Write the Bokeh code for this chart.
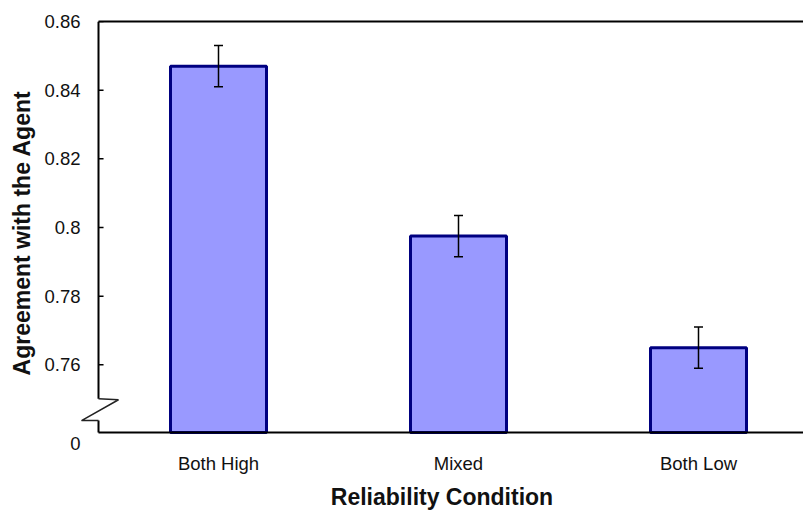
from bokeh.plotting import figure
from bokeh.models import (Range1d, LinearAxis, FixedTicker, Whisker, ColumnDataSource, TeeHead)
from bokeh.embed import file_html
from bokeh.resources import INLINE

# ---- data ----
categories = ["Both High", "Mixed", "Both Low"]
means = [0.847, 0.7975, 0.765]
errors = [0.006, 0.006, 0.006]
y_ticks = [0.76, 0.78, 0.80, 0.82, 0.84, 0.86]
y_tick_labels = ["0.76", "0.78", "0.8", "0.82", "0.84", "0.86"]
floor_label = "0"
x_title = "Reliability Condition"
y_title = "Agreement with the Agent"

# ---- layout of the broken axis (in data units) ----
y_top = 0.86
y_floor = 0.74029      # where the broken axis meets the x axis (the "0" level)
y_zero_lbl = 0.73710   # where the "0" label sits
y_min = 0.73681        # bottom of the frame
break_hi = 0.75014
break_lo = 0.74377
x_axis = 0.5           # x position of the drawn y axis
x_start = 0.425
x_end = 3.4375
zig_right = 0.5833
zig_left = 0.4292
tick_len = 0.021

FONT = "Liberation Sans"
TXT = "#111111"

xs = list(range(1, len(categories) + 1))
src = ColumnDataSource(dict(
    x=xs, top=means,
    upper=[m + e for m, e in zip(means, errors)],
    lower=[m - e for m, e in zip(means, errors)],
))

p = figure(width=803, height=512, output_backend="svg", toolbar_location=None,
           x_range=Range1d(x_start, x_end), y_range=Range1d(y_min, y_top),
           min_border_left=80, min_border_right=0, min_border_top=21, min_border_bottom=10)
p.xgrid.visible = False
p.ygrid.visible = False
p.outline_line_color = None
p.background_fill_color = "white"

p.vbar(x="x", top="top", bottom=y_floor, width=0.4, source=src,
       fill_color="#9999FF", line_color="#000080", line_width=3)

# drawn axis lines (broken y axis + x axis starting at the y axis)
p.line([x_axis, x_end], [y_floor, y_floor], line_color="black", line_width=2)
p.line([x_axis, x_axis], [break_hi, y_top], line_color="black", line_width=2)
p.line([x_axis, x_axis], [y_floor, break_lo], line_color="black", line_width=2)
p.line([x_axis, zig_right, zig_left, x_axis],
       [break_hi, break_hi - 0.0003, break_lo, break_lo],
       line_color="#222222", line_width=1.5)
# inward tick marks of the y axis
p.segment(x0=[x_axis] * len(y_ticks), x1=[x_axis + tick_len] * len(y_ticks),
          y0=y_ticks, y1=y_ticks, line_color="black", line_width=1.5)

w = Whisker(base="x", upper="upper", lower="lower", source=src,
            line_color="black", line_width=1.5, level="annotation",
            upper_head=TeeHead(size=9, line_color="black", line_width=1.5),
            lower_head=TeeHead(size=9, line_color="black", line_width=1.5))
p.add_layout(w)

# x axis
xa = p.xaxis[0]
xa.ticker = FixedTicker(ticks=xs)
xa.major_label_overrides = {x: c for x, c in zip(xs, categories)}
xa.major_tick_line_color = None
xa.major_tick_out = 0
xa.major_tick_in = 0
xa.minor_tick_line_color = None
xa.axis_line_color = None
xa.major_label_text_font = FONT
xa.major_label_text_font_size = "18.5px"
xa.major_label_text_color = TXT
xa.major_label_standoff = 8
xa.axis_label = x_title
xa.axis_label_text_font = FONT
xa.axis_label_text_font_size = "23px"
xa.axis_label_text_font_style = "bold"
xa.axis_label_text_color = TXT
xa.axis_label_standoff = 7

# y axis (labels only; line and ticks drawn above)
ya = p.yaxis[0]
ya.ticker = FixedTicker(ticks=y_ticks + [y_zero_lbl])
overrides = {t: l for t, l in zip(y_ticks, y_tick_labels)}
overrides[y_zero_lbl] = floor_label
ya.major_label_overrides = overrides
ya.major_tick_line_color = None
ya.major_tick_in = 0
ya.major_tick_out = 0
ya.minor_tick_line_color = None
ya.axis_line_color = None
ya.major_label_text_font = FONT
ya.major_label_text_font_size = "18.5px"
ya.major_label_text_color = TXT
ya.major_label_standoff = 0
ya.axis_label = y_title
ya.axis_label_text_font = FONT
ya.axis_label_text_font_size = "23px"
ya.axis_label_text_font_style = "bold"
ya.axis_label_text_color = TXT
ya.axis_label_standoff = 6

# top border line
top_axis = LinearAxis(ticker=FixedTicker(ticks=[]), axis_line_width=2, axis_line_color="black",
                      bounds=(x_axis, x_end), major_tick_out=0, major_tick_in=0,
                      major_tick_line_color=None, minor_tick_line_color=None,
                      major_label_text_font_size="0px")
p.add_layout(top_axis, "above")

open("out.html", "w").write(file_html(p, INLINE))
